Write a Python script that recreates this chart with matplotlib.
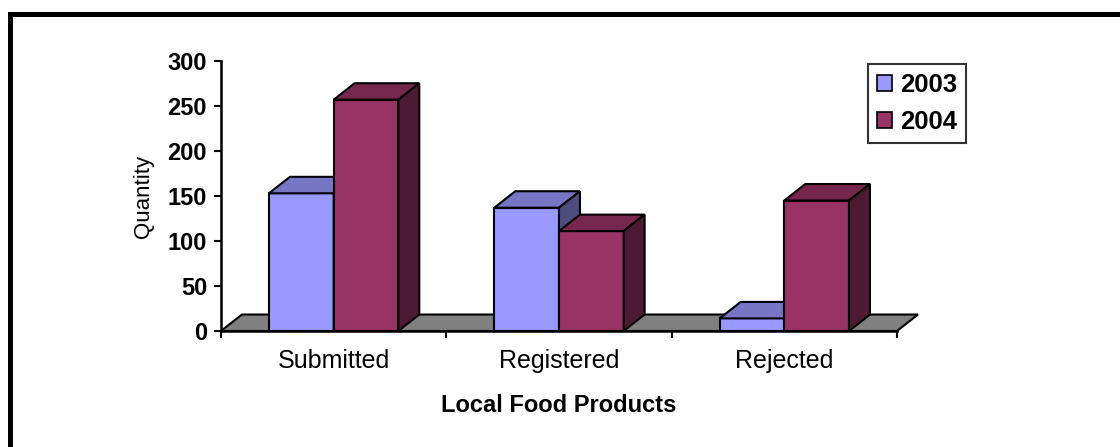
import matplotlib
matplotlib.use("Agg")
import matplotlib.pyplot as plt
from matplotlib.patches import Polygon, Rectangle
from matplotlib.lines import Line2D

plt.rcParams['font.family'] = ['Liberation Sans', 'DejaVu Sans']

# ---- data ----
categories = ["Submitted", "Registered", "Rejected"]
series_names = ["2003", "2004"]
values_2003 = [153, 137, 14]
values_2004 = [257, 111, 145]
y_ticks = [0, 50, 100, 150, 200, 250, 300]

# ---- styles ----
front_colors = ["#9999FF", "#993366"]
top_colors = ["#7676C4", "#76274E"]
side_colors = ["#4D4D80", "#4D1A33"]
floor_color = "#808080"

# ---- layout (in data units) ----
GAP = 0.213        # gap from category boundary to first bar
BAR_W = 0.287      # bar width
DX = 0.093         # depth offset x
DY = 18.3          # depth offset y
EDGE_LW = 1.5

fig = plt.figure(figsize=(11.2, 4.47), dpi=100)
ax = fig.add_axes([221/1120, 1-331/447, (897-221)/1120, (331-61)/447])
ax.set_xlim(0, len(categories))
ax.set_ylim(y_ticks[0], y_ticks[-1])

# floor
n = len(categories)
floor = Polygon([(0, 0), (n, 0), (n + DX, DY), (DX, DY)], closed=True,
                facecolor=floor_color, edgecolor="black", lw=EDGE_LW,
                clip_on=False, zorder=2)
ax.add_patch(floor)

series = [values_2003, values_2004]
for ci in range(n):
    for si, vals in enumerate(series):
        v = vals[ci]
        x0 = ci + GAP + si * BAR_W
        x1 = x0 + BAR_W
        front = Polygon([(x0, 0), (x1, 0), (x1, v), (x0, v)], closed=True,
                        facecolor=front_colors[si], edgecolor="black",
                        lw=EDGE_LW, clip_on=False, zorder=3, joinstyle="miter")
        top = Polygon([(x0, v), (x1, v), (x1 + DX, v + DY), (x0 + DX, v + DY)],
                      closed=True, facecolor=top_colors[si], edgecolor="black",
                      lw=EDGE_LW, clip_on=False, zorder=3, joinstyle="miter")
        side = Polygon([(x1, 0), (x1 + DX, DY), (x1 + DX, v + DY), (x1, v)],
                       closed=True, facecolor=side_colors[si], edgecolor="black",
                       lw=EDGE_LW, clip_on=False, zorder=3, joinstyle="miter")
        for p in (front, top, side):
            ax.add_patch(p)

# axes styling
for s in ("top", "right"):
    ax.spines[s].set_visible(False)
for s in ("left", "bottom"):
    ax.spines[s].set_linewidth(1.8)
    ax.spines[s].set_zorder(5)

ax.set_yticks(y_ticks)
ax.set_yticklabels([str(t) for t in y_ticks], fontsize=17, fontweight="bold")
ax.tick_params(axis="y", length=5, width=1.5, pad=5)

ax.set_xticks(range(n + 1))
ax.set_xticklabels([""] * (n + 1))
ax.tick_params(axis="x", which="major", length=5, width=1.5)
ax.set_xticks([i + 0.5 for i in range(n)], minor=True)
ax.set_xticklabels(categories, minor=True, fontsize=18)
ax.tick_params(axis="x", which="minor", length=0, pad=13)

ax.set_xlabel("Local Food Products", fontsize=17, fontweight="bold", labelpad=15)
ax.set_ylabel("Quantity", fontsize=16, labelpad=10)

# legend
handles = [Rectangle((0, 0), 1, 1, facecolor=front_colors[i], edgecolor="black", lw=1.2)
           for i in range(len(series_names))]
leg = fig.legend(handles, series_names, loc="upper left",
                 bbox_to_anchor=(868/1120, 1-64/447), bbox_transform=fig.transFigure,
                 prop={"size": 18.5, "weight": "bold"}, frameon=True, fancybox=False,
                 handlelength=0.6, handleheight=0.6, handletextpad=0.3,
                 labelspacing=0.5, borderpad=0.35, borderaxespad=0)
leg.get_frame().set_edgecolor("black")
leg.get_frame().set_linewidth(1.5)

# outer border (cropped at right/bottom)
border = Line2D([9.5/1120, 9.5/1120, 1.01], [-0.01, 1-13.5/447, 1-13.5/447],
                transform=fig.transFigure, color="black", lw=3.6,
                solid_joinstyle="miter", solid_capstyle="projecting")
fig.add_artist(border)

fig.savefig("out.png", dpi=100)
